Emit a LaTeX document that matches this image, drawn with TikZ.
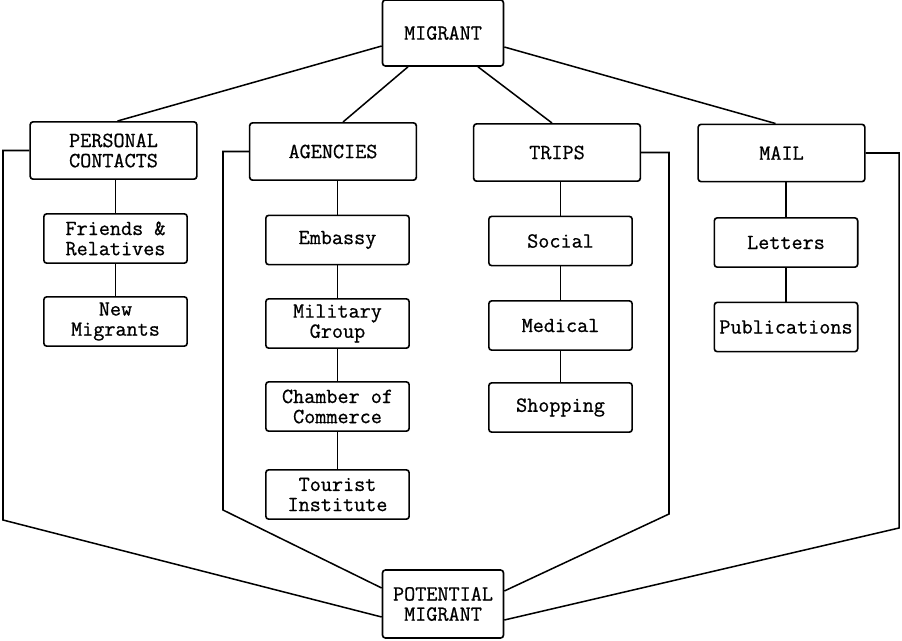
\documentclass[tikz,border=0pt]{standalone}
\usepackage{fontspec}
\newfontfamily\typer[FakeBold=0.8]{Latin Modern Mono}
\usepackage{tikz}
\usetikzlibrary{positioning, calc}

\tikzset{
  box/.style={draw, line width=1.4pt, rounded corners=2.5pt, fill=white, align=center,
              inner sep=1pt, font=\fontsize{18.4}{17.2}\selectfont\typer},
  topbox/.style={box, minimum width=3.63cm, minimum height=1.98cm},
  headbox/.style={box, minimum width=5cm, minimum height=1.72cm},
  itembox/.style={box, minimum width=4.3cm, minimum height=1.48cm},
  link/.style={line width=1.3pt}
}

\begin{document}
\begin{tikzpicture}[x=0.03cm, y=-0.03cm]
  \useasboundingbox (0,0) rectangle (902,640);

  % top and bottom
  \node[topbox] (mig) at (443,33) {MIGRANT};
  \node[topbox, minimum height=2.04cm] (pm) at (443,604) {POTENTIAL\\MIGRANT};

  % channels
  \node[headbox] (pc) at (113.5,150.5) {PERSONAL\\CONTACTS};
  \node[headbox] (ag) at (333,151.5) {AGENCIES};
  \node[headbox] (tr) at (557,152.5) {TRIPS};
  \node[headbox] (ml) at (781.5,153) {MAIL};

  % sources
  \node[itembox] (fr) at (115.5,238.5) {Friends \&\\Relatives};
  \node[itembox] (nm) at (115.5,321.5) {New\\Migrants};

  \node[itembox] (em) at (337.5,240) {Embassy};
  \node[itembox] (mg) at (337.5,323.5) {Military\\Group};
  \node[itembox] (cc) at (337.5,406.5) {Chamber of\\Commerce};
  \node[itembox] (ti) at (337.5,494.5) {Tourist\\Institute};

  \node[itembox] (so) at (560.5,241) {Social};
  \node[itembox] (me) at (560.5,325.5) {Medical};
  \node[itembox] (sh) at (560.5,407.5) {Shopping};

  \node[itembox] (le) at (786,242.5) {Letters};
  \node[itembox] (pu) at (786,327) {Publications};

  % migrant to channels
  \draw[link] ($(mig.west)+(0,13)$) -- ($(pc.north)+(4,0)$);
  \draw[link] ($(mig.south)+(-35,0)$) -- ($(ag.north)+(10,0)$);
  \draw[link] ($(mig.south)+(35,0)$) -- ($(tr.north)+(-5,0)$);
  \draw[link] ($(mig.east)+(0,14)$) -- ($(ml.north)+(-6,0)$);

  % chains
  \foreach \a/\b in {pc/fr, fr/nm, ag/em, em/mg, mg/cc, cc/ti, tr/so, so/me, me/sh, ml/le, le/pu}
    \draw[link] (\b.north) -- (\b.north |- \a.south);

  % channels to potential migrant
  \draw[link] (pc.west) -| (3,520) -- ($(pm.west)+(0,13)$);
  \draw[link] (ag.west) -| (223,510) -- ($(pm.west)+(0,-16)$);
  \draw[link] (tr.east) -| (669,514) -- ($(pm.east)+(0,-13)$);
  \draw[link] (ml.east) -| (899,528) -- ($(pm.east)+(0,16)$);
\end{tikzpicture}
\end{document}
